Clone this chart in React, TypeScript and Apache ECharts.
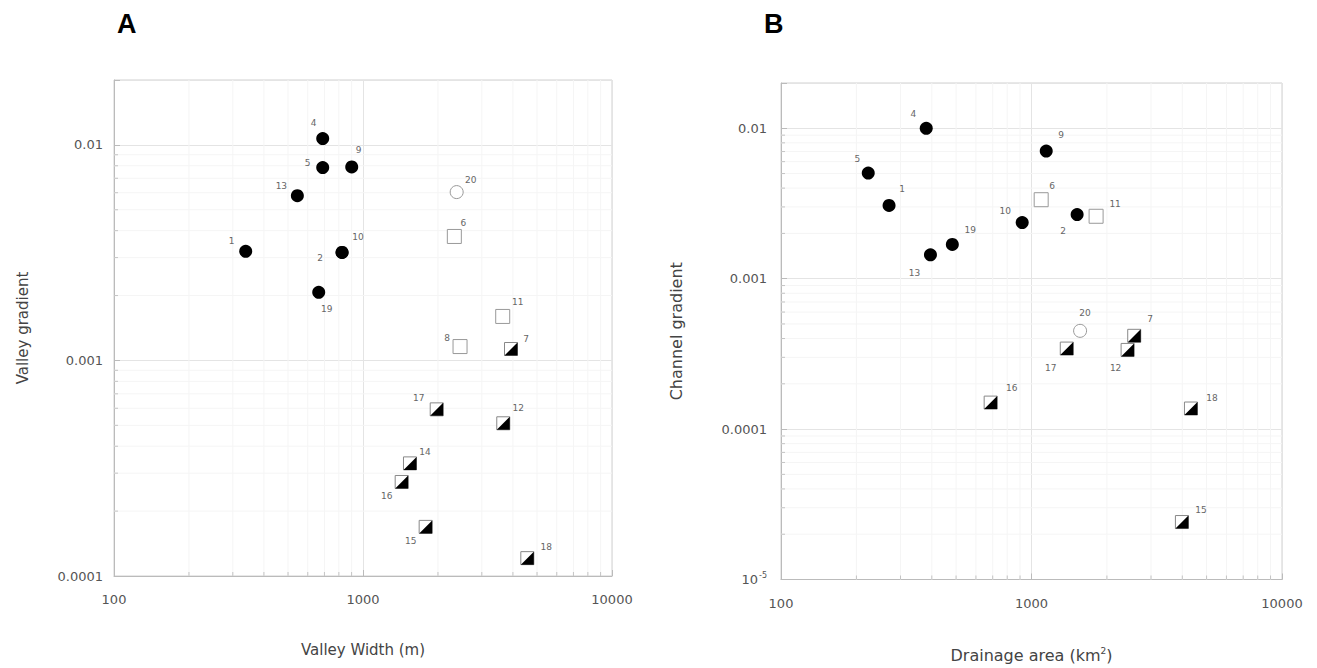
import React, { useEffect, useRef } from "react";
import * as echarts from "echarts";

// ---------- DATA ----------
// Panel A: Valley width (m) vs Valley gradient
const aFilledCircle: [number, number, string][] = [
  [338, 0.00321, "1"], [824, 0.00317, "2"], [689, 0.0107, "4"], [689, 0.00785, "5"],
  [901, 0.0079, "9"], [824, 0.00317, "10"], [545, 0.00581, "13"], [664, 0.00207, "19"],
];
const aOpenCircle: [number, number, string][] = [[2378, 0.00604, "20"]];
const aOpenSquare: [number, number, string][] = [
  [2327, 0.00376, "6"], [2453, 0.00116, "8"], [3640, 0.0016, "11"],
];
const aHalfSquare: [number, number, string][] = [
  [3930, 0.00113, "7"], [3659, 0.000511, "12"], [1544, 0.000333, "14"], [1785, 0.000169, "15"],
  [1430, 0.000273, "16"], [1977, 0.000593, "17"], [4570, 0.000121, "18"],
];

// Panel B: Drainage area (km2) vs Channel gradient
const bFilledCircle: [number, number, string][] = [
  [270, 0.00307, "1"], [1521, 0.00267, "2"], [380, 0.01, "4"], [223, 0.00504, "5"],
  [1145, 0.00706, "9"], [918, 0.00236, "10"], [395, 0.00144, "13"], [483, 0.00169, "19"],
];
const bOpenCircle: [number, number, string][] = [[1563, 0.00045, "20"]];
const bOpenSquare: [number, number, string][] = [[1093, 0.00335, "6"], [1811, 0.0026, "11"]];
const bHalfSquare: [number, number, string][] = [
  [2571, 0.000417, "7"], [2419, 0.000336, "12"], [3985, 0.0000241, "15"], [687, 0.00015, "16"],
  [1383, 0.000343, "17"], [4330, 0.000137, "18"],
];

// axis ranges / ticks
const xRange = [100, 10000];
const aYRange = [0.0001, 0.02];
const bYRange = [0.00001, 0.02];
const xMinor = [200, 300, 400, 500, 600, 700, 800, 900, 2000, 3000, 4000, 5000, 6000, 7000, 8000, 9000];
const aYMinor = [0.0002, 0.0003, 0.0004, 0.0005, 0.0006, 0.0007, 0.0008, 0.0009, 0.002, 0.003, 0.004, 0.005, 0.006, 0.007, 0.008, 0.009];
const bYMinor = [0.00002, 0.00003, 0.00004, 0.00005, 0.00006, 0.00007, 0.00008, 0.00009, ...aYMinor];

// ---------- label offsets (style) ----------
const aOff: Record<string, [number, number]> = {
  "1": [-14, -10], "2": [-22, 6], "4": [-9, -16], "5": [-15, -5], "9": [7, -17], "10": [16, -15],
  "13": [-16, -10], "19": [8, 17], "20": [14, -12], "6": [9, -13], "11": [15, -14], "8": [-13, -9],
  "7": [15, -10], "17": [-18, -11], "12": [15, -15], "14": [15, -11], "16": [-15, 14], "15": [-15, 14],
  "18": [19, -11],
};
const bOff: Record<string, [number, number]> = {
  "4": [-13, -14], "9": [15, -16], "5": [-11, -14], "1": [13, -16], "6": [11, -14], "11": [19, -12],
  "2": [-14, 16], "10": [-17, -12], "19": [18, -14], "13": [-16, 18], "20": [5, -18], "7": [16, -17],
  "17": [-16, 19], "12": [-12, 18], "16": [21, -15], "18": [21, -11], "15": [19, -12],
};

const FONT = "DejaVu Sans, Liberation Sans, Arial, sans-serif";

function App() {
  const ref = useRef<HTMLDivElement>(null);
  useEffect(() => {
    if (!ref.current) return;
    const chart = echarts.init(ref.current, undefined, { renderer: "svg" });

    const pts = (arr: [number, number, string][], off: Record<string, [number, number]>, withLabel = true) =>
      arr.map(([x, y, id]) => ({
        value: [x, y],
        name: id,
        label: { show: withLabel, offset: off[id] || [0, 0] },
      }));

    const labelStyle = {
      show: true,
      position: "inside" as const,
      formatter: "{b}",
      fontSize: 9,
      color: "#666",
      fontFamily: FONT,
    };

    const isDecade = (v: number) => {
      const l = Math.log10(v);
      return Math.abs(l - Math.round(l)) < 1e-6;
    };
    const yFmt = (v: number) => {
      if (!isDecade(v)) return "";
      const e = Math.round(Math.log10(v));
      if (e <= -5) return "10{s|" + e + "}";
      return String(Number(Math.pow(10, e).toPrecision(6)));
    };
    const xFmt = (v: number) => (isDecade(v) ? String(Math.round(v)) : "");

    const gridLineRender = (dir: "x" | "y") => (params: any, api: any) => {
      const cs = params.coordSys;
      const p = api.coord([api.value(0), api.value(1)]);
      if (dir === "x") {
        return {
          type: "group",
          children: [
            { type: "line", shape: { x1: p[0], y1: cs.y, x2: p[0], y2: cs.y + cs.height }, style: { stroke: "#f5f5f5", lineWidth: 1 } },
            { type: "line", shape: { x1: p[0], y1: cs.y + cs.height, x2: p[0], y2: cs.y + cs.height - 4 }, style: { stroke: "#c4c4c4", lineWidth: 1 } },
          ],
        };
      }
      return {
        type: "group",
        children: [
          { type: "line", shape: { x1: cs.x, y1: p[1], x2: cs.x + cs.width, y2: p[1] }, style: { stroke: "#f5f5f5", lineWidth: 1 } },
          { type: "line", shape: { x1: cs.x, y1: p[1], x2: cs.x + 4, y2: p[1] }, style: { stroke: "#c4c4c4", lineWidth: 1 } },
        ],
      };
    };

    const xAxisBase = (name: string, gridIndex: number, nameGap: number, nameSize: number) => ({
      type: "log",
      logBase: 10,
      gridIndex,
      min: xRange[0],
      max: xRange[1],
      name,
      nameLocation: "middle",
      nameGap,
      nameTextStyle: {
        fontSize: nameSize, color: "#444", fontFamily: FONT,
        rich: { s: { fontSize: 9, verticalAlign: "top", color: "#444", fontFamily: FONT, padding: [0, 0, 8, 0] } },
      },
      axisLine: { show: true, lineStyle: { color: "#bbb" } },
      axisTick: { show: true, inside: true, length: 6, lineStyle: { color: "#bbb" } },
      axisLabel: { formatter: xFmt, fontSize: 13, color: "#555", fontFamily: FONT, margin: 17, showMaxLabel: true, showMinLabel: true },
      splitLine: { show: true, lineStyle: { color: "#e4e4e4" } },
    });
    const yAxisBase = (name: string, gridIndex: number, range: number[], nameGap: number, nameSize: number, margin: number) => ({
      type: "log",
      logBase: 10,
      gridIndex,
      min: range[0],
      max: range[1],
      name,
      nameLocation: "middle",
      nameGap,
      nameTextStyle: { fontSize: nameSize, color: "#444", fontFamily: FONT },
      axisLine: { show: true, lineStyle: { color: "#bbb" } },
      axisTick: { show: true, inside: true, length: 6, lineStyle: { color: "#bbb" } },
      axisLabel: {
        formatter: yFmt,
        fontSize: 13,
        color: "#555",
        fontFamily: FONT,
        margin,
        rich: { s: { fontSize: 8, verticalAlign: "top", color: "#555", fontFamily: FONT, padding: [0, 0, 8, 1] } },
      },
      splitLine: { show: true, lineStyle: { color: "#e4e4e4" } },
    });

    const filledCircleS = (data: any[], xi: number) => ({
      type: "scatter", xAxisIndex: xi, yAxisIndex: xi, symbol: "circle", symbolSize: 13,
      itemStyle: { color: "#000", opacity: 1 }, label: labelStyle, data, z: 5,
    });
    const openCircleS = (data: any[], xi: number) => ({
      type: "scatter", xAxisIndex: xi, yAxisIndex: xi, symbol: "circle", symbolSize: 13,
      itemStyle: { color: "#fff", borderColor: "#999", borderWidth: 1, opacity: 1 }, label: labelStyle, data, z: 5,
    });
    const openSquareS = (data: any[], xi: number) => ({
      type: "scatter", xAxisIndex: xi, yAxisIndex: xi, symbol: "rect", symbolSize: 14,
      itemStyle: { color: "#fff", borderColor: "#999", borderWidth: 1, opacity: 1 }, label: labelStyle, data, z: 5,
    });
    const halfBaseS = (data: any[], xi: number) => ({
      type: "scatter", xAxisIndex: xi, yAxisIndex: xi, symbol: "rect", symbolSize: 13,
      itemStyle: { color: "#fff", borderColor: "#888", borderWidth: 1, opacity: 1 }, label: labelStyle, data, z: 5,
    });
    const halfTriS = (data: any[], xi: number) => ({
      type: "scatter", xAxisIndex: xi, yAxisIndex: xi, symbol: "path://M10,0L10,10L0,10Z", symbolSize: 13,
      itemStyle: { color: "#000", opacity: 1 }, data, z: 6, silent: true,
    });
    const minorS = (dir: "x" | "y", vals: number[], xi: number, otherMin: number) => ({
      type: "custom", xAxisIndex: xi, yAxisIndex: xi, silent: true, z: 1,
      renderItem: gridLineRender(dir),
      data: vals.map((v) => (dir === "x" ? [v, otherMin] : [xRange[0], v])),
    });

    chart.setOption({
      animation: false,
      backgroundColor: "#fff",
      textStyle: { fontFamily: FONT },
      grid: [
        { left: 114, top: 80, width: 498, height: 496, show: true, borderColor: "#d0d0d0", backgroundColor: "transparent" },
        { left: 781, top: 83, width: 501, height: 497, show: true, borderColor: "#d0d0d0", backgroundColor: "transparent" },
      ],
      xAxis: [xAxisBase("Valley Width (m)", 0, 66, 15), xAxisBase("Drainage area (km{s|2})", 1, 67, 16)],
      yAxis: [
        yAxisBase("Valley gradient", 0, aYRange, 84, 15, 11),
        yAxisBase("Channel gradient", 1, bYRange, 97, 16, 14),
      ],
      graphic: [
        { type: "text", left: 117, top: 10, style: { text: "A", fontSize: 27, fontWeight: "bold", fill: "#000", fontFamily: "Liberation Sans, Arial, sans-serif" } },
        { type: "text", left: 764, top: 10, style: { text: "B", fontSize: 27, fontWeight: "bold", fill: "#000", fontFamily: "Liberation Sans, Arial, sans-serif" } },
      ],
      series: [
        minorS("x", xMinor, 0, aYRange[0]),
        minorS("y", aYMinor, 0, xRange[0]),
        minorS("x", xMinor, 1, bYRange[0]),
        minorS("y", bYMinor, 1, xRange[0]),
        filledCircleS(pts(aFilledCircle, aOff), 0),
        openCircleS(pts(aOpenCircle, aOff), 0),
        openSquareS(pts(aOpenSquare, aOff), 0),
        halfBaseS(pts(aHalfSquare, aOff), 0),
        halfTriS(pts(aHalfSquare, aOff, false), 0),
        filledCircleS(pts(bFilledCircle, bOff), 1),
        openCircleS(pts(bOpenCircle, bOff), 1),
        openSquareS(pts(bOpenSquare, bOff), 1),
        halfBaseS(pts(bHalfSquare, bOff), 1),
        halfTriS(pts(bHalfSquare, bOff, false), 1),
      ],
    });
    return () => chart.dispose();
  }, []);
  return <div ref={ref} style={{ position: "absolute", left: 0, top: 0, width: 1317, height: 668 }} />;
}

export default App;
